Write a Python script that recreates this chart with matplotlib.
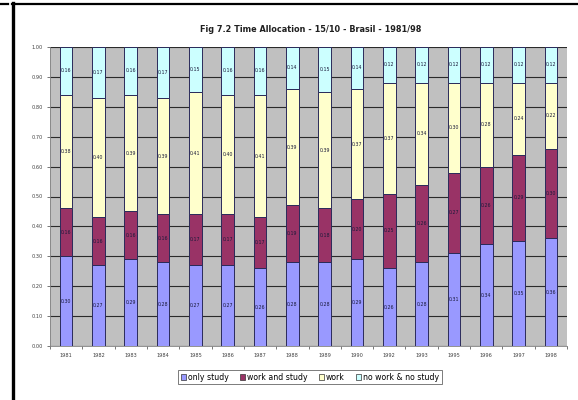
import matplotlib
matplotlib.use("Agg")
import matplotlib.pyplot as plt
from matplotlib.lines import Line2D
from matplotlib.patches import Patch
import numpy as np

years = ["1981", "1982", "1983", "1984", "1985", "1986", "1987", "1988",
         "1989", "1990", "1992", "1993", "1995", "1996", "1997", "1998"]

only_study = [0.30, 0.27, 0.29, 0.28, 0.27, 0.27, 0.26, 0.28,
              0.28, 0.29, 0.26, 0.28, 0.31, 0.34, 0.35, 0.36]
work_and_study = [0.16, 0.16, 0.16, 0.16, 0.17, 0.17, 0.17, 0.19,
                  0.18, 0.20, 0.25, 0.26, 0.27, 0.26, 0.29, 0.30]
work = [0.38, 0.40, 0.39, 0.39, 0.41, 0.40, 0.41, 0.39,
        0.39, 0.37, 0.37, 0.34, 0.30, 0.28, 0.24, 0.22]
no_work_no_study = [0.16, 0.17, 0.16, 0.17, 0.15, 0.16, 0.16, 0.14,
                    0.15, 0.14, 0.12, 0.12, 0.12, 0.12, 0.12, 0.12]

series_names = ["only study", "work and study", "work", "no work & no study"]
series_values = [only_study, work_and_study, work, no_work_no_study]
series_colors = ["#9999ff", "#993366", "#ffffcc", "#ccffff"]

title = "Fig 7.2 Time Allocation - 15/10 - Brasil - 1981/98"

W, H = 578, 400
fig = plt.figure(figsize=(W / 100, H / 100), dpi=100)
fig.patch.set_facecolor("white")

ax = fig.add_axes([50 / W, 1 - 346 / H, 517 / W, 299 / H])
ax.set_facecolor("#c0c0c0")

x = np.arange(len(years))
bottom = np.zeros(len(years))
for name, vals, col in zip(series_names, series_values, series_colors):
    vals = np.array(vals)
    ax.bar(x, vals, width=0.39, bottom=bottom, color=col,
           edgecolor="#2a2a5a", linewidth=0.7, label=name, zorder=3)
    for xi, b, v in zip(x, bottom, vals):
        ax.text(xi, b + v / 2, f"{v:.2f}", ha="center", va="center",
                fontsize=3.4, color="#1a1a3a", zorder=4)
    bottom = bottom + vals

ax.set_xlim(-0.5, len(years) - 0.5)
ax.set_ylim(0, 1.0)
ax.set_yticks(np.arange(0, 1.01, 0.1))
ax.set_yticklabels([f"{t:.2f}" for t in np.arange(0, 1.01, 0.1)],
                   fontsize=3.6, color="#404040")
ax.set_xticks(x)
ax.set_xticklabels(years, fontsize=3.6, color="#404040")
ax.set_xticks(np.arange(-0.5, len(years), 1.0), minor=True)
ax.tick_params(axis="x", which="major", length=0, pad=5)
ax.tick_params(axis="x", which="minor", length=2, width=0.6, color="#606060")
ax.tick_params(axis="y", length=2, width=0.6, color="#606060", pad=3)
ax.yaxis.grid(True, color="#2a2a2a", linewidth=0.8, zorder=1)
ax.set_axisbelow(True)
for side in ["top", "right"]:
    ax.spines[side].set_visible(False)
ax.spines["left"].set_color("#808080")
ax.spines["bottom"].set_color("#808080")
ax.spines["left"].set_linewidth(0.6)
ax.spines["bottom"].set_linewidth(0.6)

fig.text(311 / W, 1 - 29 / H, title, ha="center", va="center",
         fontsize=5.9, fontweight="bold", color="#202020")

handles = [Patch(facecolor=c, edgecolor="#333333", linewidth=0.5)
           for c in series_colors]
leg = fig.legend(handles, series_names, loc="center",
                 bbox_to_anchor=(310 / W, 1 - 377 / H), ncol=4,
                 fontsize=5.6, frameon=True, fancybox=False,
                 handlelength=0.7, handleheight=0.8, handletextpad=0.25,
                 columnspacing=1.4, borderpad=0.3, edgecolor="#404040")
leg.get_frame().set_linewidth(0.6)

# outer frame lines
fig.add_artist(Line2D([13 / W, 13 / W], [0, 1 - 3 / H],
                      transform=fig.transFigure, color="black", linewidth=2.4))
fig.add_artist(Line2D([12 / W, 1.0], [1 - 4.3 / H, 1 - 4.3 / H],
                      transform=fig.transFigure, color="black", linewidth=1.6))
fig.add_artist(Line2D([0, 8 / W], [1 - 4.3 / H, 1 - 4.3 / H],
                      transform=fig.transFigure, color="black", linewidth=1.6))

fig.savefig("out.png", dpi=100)
